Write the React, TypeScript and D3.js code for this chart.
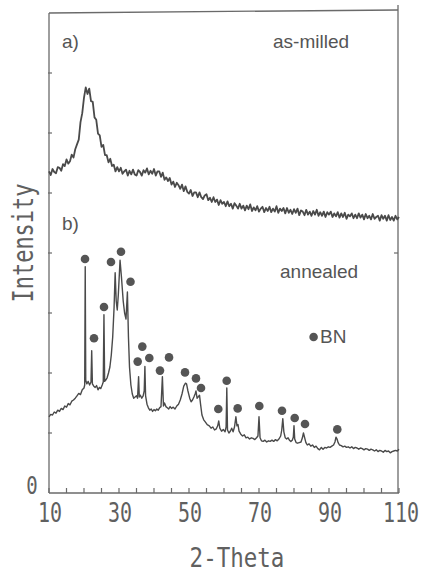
import React from "react";
import * as d3 from "d3";

// ---- Data ----
// (a) as-milled: intensity sampled every 0.5 deg from 10 to 110 (2-Theta)
const asMilledStart = 10;
const asMilledStep = 0.5;
const asMilledValues: number[] = [
  5.36, 5.30, 5.40, 5.35, 5.33, 5.43, 5.42, 5.37, 5.48, 5.45,
  5.56, 5.49, 5.53, 5.64, 5.59, 5.73, 5.81, 5.89, 6.18, 6.33,
  6.59, 6.76, 6.65, 6.74, 6.53, 6.52, 6.26, 6.22, 5.99, 5.96,
  5.77, 5.80, 5.63, 5.63, 5.51, 5.57, 5.45, 5.47, 5.36, 5.43,
  5.36, 5.42, 5.32, 5.36, 5.39, 5.29, 5.37, 5.31, 5.39, 5.31,
  5.29, 5.38, 5.35, 5.29, 5.38, 5.34, 5.41, 5.31, 5.37, 5.32,
  5.40, 5.29, 5.36, 5.36, 5.27, 5.34, 5.22, 5.26, 5.20, 5.25,
  5.14, 5.19, 5.10, 5.17, 5.13, 5.07, 5.14, 5.03, 5.11, 5.02,
  4.99, 5.05, 4.95, 5.01, 5.01, 4.93, 5.01, 4.93, 4.90, 4.96,
  4.98, 4.88, 4.92, 4.85, 4.93, 4.85, 4.89, 4.80, 4.88, 4.82,
  4.85, 4.78, 4.86, 4.78, 4.82, 4.74, 4.83, 4.79, 4.74, 4.82,
  4.74, 4.79, 4.71, 4.79, 4.73, 4.81, 4.70, 4.76, 4.71, 4.78,
  4.69, 4.74, 4.77, 4.68, 4.75, 4.70, 4.77, 4.68, 4.74, 4.69,
  4.78, 4.67, 4.74, 4.70, 4.75, 4.66, 4.75, 4.67, 4.72, 4.65,
  4.73, 4.67, 4.74, 4.63, 4.71, 4.69, 4.63, 4.72, 4.64, 4.69,
  4.62, 4.70, 4.64, 4.72, 4.62, 4.68, 4.62, 4.69, 4.60, 4.68,
  4.64, 4.69, 4.60, 4.66, 4.61, 4.68, 4.59, 4.66, 4.60, 4.67,
  4.57, 4.64, 4.61, 4.66, 4.58, 4.64, 4.58, 4.66, 4.59, 4.64,
  4.56, 4.65, 4.58, 4.62, 4.56, 4.65, 4.57, 4.60, 4.62, 4.54,
  4.63, 4.57, 4.62, 4.54, 4.63, 4.55, 4.60, 4.54, 4.62, 4.56,
  4.60,
];

// (b) annealed: [2-Theta, intensity]
const annealedPoints: [number, number][] = [
  [10, 1.27], [10.5, 1.31], [11, 1.30], [11.5, 1.35], [12, 1.33], [12.5, 1.38], [13, 1.36],
  [13.5, 1.41], [14, 1.39], [14.5, 1.45], [15, 1.43], [15.5, 1.49], [16, 1.47], [16.5, 1.53],
  [17, 1.55], [17.5, 1.58], [18, 1.62], [18.5, 1.66], [19, 1.64], [19.5, 1.72], [20, 1.75],
  [20.2, 1.80], [20.35, 3.77], [20.5, 1.88], [20.8, 1.82], [21.2, 1.86], [21.6, 1.80], [22.0, 1.85],
  [22.2, 2.37], [22.4, 1.82], [22.8, 1.78], [23.2, 1.76], [23.6, 1.79], [24.0, 1.72], [24.4, 1.76],
  [24.8, 1.74], [25.2, 1.80], [25.5, 1.85], [25.7, 2.97], [25.9, 1.86], [26.2, 1.88], [26.6, 1.92],
  [27.0, 2.0], [27.4, 2.1], [27.8, 2.3], [28.2, 2.6], [28.6, 3.1], [28.9, 3.67], [29.2, 3.2],
  [29.5, 3.05], [29.8, 3.3], [30.3, 3.88], [30.7, 3.6], [31.2, 3.2], [31.6, 3.0], [32.0, 2.9],
  [32.4, 3.35], [32.7, 2.6], [33.0, 2.1], [33.4, 1.8], [33.8, 1.65], [34.2, 1.58], [34.6, 1.60],
  [35.0, 1.62], [35.3, 1.58], [35.6, 1.94], [35.8, 1.60], [36.1, 1.63], [36.5, 1.58], [36.9, 1.62],
  [37.2, 1.70], [37.4, 2.11], [37.6, 1.62], [38.0, 1.48], [38.4, 1.42], [38.8, 1.38], [39.2, 1.40],
  [39.6, 1.36], [40.0, 1.39], [40.4, 1.37], [40.8, 1.40], [41.2, 1.38], [41.6, 1.42], [42.0, 1.44],
  [42.4, 1.94], [42.7, 1.45], [43.0, 1.50], [43.4, 1.44], [43.8, 1.42], [44.2, 1.40], [44.6, 1.44],
  [45.0, 1.41], [45.5, 1.43], [46.0, 1.40], [46.5, 1.45], [47.0, 1.48], [47.5, 1.55], [48.0, 1.65],
  [48.5, 1.78], [49.0, 1.83], [49.3, 1.82], [49.7, 1.70], [50.2, 1.58], [50.6, 1.52], [51.0, 1.55],
  [51.4, 1.60], [51.8, 1.66], [52.0, 1.70], [52.3, 1.58], [52.6, 1.60], [53.0, 1.63], [53.3, 1.48],
  [53.7, 1.30], [54.2, 1.22], [54.7, 1.18], [55.2, 1.14], [55.8, 1.12], [56.3, 1.08], [56.8, 1.10],
  [57.3, 1.05], [57.8, 1.07], [58.2, 1.12], [58.5, 1.20], [58.8, 1.08], [59.3, 1.03], [59.8, 1.06],
  [60.3, 1.02], [60.6, 1.10], [60.8, 1.75], [61.0, 1.05], [61.4, 1.00], [61.8, 1.03], [62.2, 1.08],
  [62.6, 1.02], [63.0, 1.10], [63.4, 1.27], [63.7, 1.12], [64.0, 1.14], [64.3, 1.03], [64.8, 0.98],
  [65.3, 0.95], [65.8, 0.97], [66.3, 0.92], [66.8, 0.93], [67.3, 0.90], [67.8, 0.92], [68.3, 0.91],
  [68.8, 0.89], [69.3, 0.92], [69.7, 0.95], [70.0, 1.27], [70.3, 0.92], [70.7, 0.87], [71.2, 0.86],
  [71.7, 0.88], [72.2, 0.85], [72.7, 0.87], [73.2, 0.86], [73.7, 0.88], [74.2, 0.86], [74.7, 0.89],
  [75.2, 0.87], [75.7, 0.90], [76.2, 0.95], [76.5, 1.05], [76.8, 1.24], [77.1, 1.02], [77.5, 0.92],
  [77.9, 0.90], [78.3, 0.92], [78.7, 0.88], [79.1, 0.86], [79.5, 0.88], [79.8, 0.93], [80.0, 1.12],
  [80.2, 0.90], [80.6, 0.84], [81.0, 0.83], [81.5, 0.84], [82.0, 0.85], [82.4, 0.92], [82.7, 1.00],
  [83.0, 0.93], [83.4, 0.84], [83.8, 0.80], [84.3, 0.82], [84.8, 0.78], [85.3, 0.80], [85.8, 0.76],
  [86.3, 0.78], [86.8, 0.74], [87.3, 0.72], [87.8, 0.76], [88.3, 0.73], [88.8, 0.76], [89.3, 0.75],
  [89.8, 0.77], [90.3, 0.76], [90.8, 0.78], [91.3, 0.80], [91.7, 0.85], [92.0, 0.93], [92.3, 0.90],
  [92.6, 0.84], [93.0, 0.80], [93.5, 0.79], [94.0, 0.77], [94.5, 0.78], [95.0, 0.76], [95.5, 0.77],
  [96.0, 0.75], [96.5, 0.77], [97.0, 0.74], [97.5, 0.76], [98.0, 0.75], [98.5, 0.73], [99.0, 0.75],
  [99.5, 0.74], [100.0, 0.72], [100.5, 0.74], [101.0, 0.73], [101.5, 0.71], [102.0, 0.73],
  [102.5, 0.72], [103.0, 0.70], [103.5, 0.72], [104.0, 0.69], [104.5, 0.71], [105.0, 0.70],
  [105.5, 0.68], [106.0, 0.71], [106.5, 0.69], [107.0, 0.70], [107.5, 0.67], [108.0, 0.69],
  [108.5, 0.70], [109.0, 0.71], [109.5, 0.70], [110, 0.73],
];

// BN markers: [2-Theta, intensity]
const bnMarkers: [number, number][] = [
  [20.29, 3.90], [22.86, 2.58], [25.71, 3.10], [27.71, 3.85], [30.57, 4.02], [33.29, 3.52],
  [35.34, 2.19], [36.66, 2.44], [38.66, 2.25], [41.71, 2.04], [44.29, 2.26], [48.86, 2.01],
  [52.0, 1.91], [53.43, 1.75], [58.37, 1.40], [60.77, 1.87], [63.91, 1.41], [70.09, 1.45],
  [76.57, 1.37], [80.2, 1.25], [83.14, 1.15], [92.37, 1.06],
];

const xTickLabels = [10, 30, 50, 70, 90, 110];
const xMinorTicks = d3.range(10, 111, 5);
const yLeftTicks = [1, 2, 3, 4, 5, 6, 7];
const yRightTicks = [4];
const legendMarker: [number, number] = [85.6, 2.6];

const ink = "#555";
const labelInk = "#606060";
const axisColor = "#6a6a6a";
const monoFont = "'DejaVu Sans Mono', monospace";
const sansFont = "'Liberation Sans', Arial, sans-serif";

export default function App() {
  const x = d3.scaleLinear().domain([10, 110]).range([49, 399]);
  const y = d3.scaleLinear().domain([0, 8]).range([493, 13]);

  const asMilled: [number, number][] = asMilledValues.map((v, i) => [
    asMilledStart + i * asMilledStep,
    v,
  ]);
  const line = d3
    .line<[number, number]>()
    .x((d) => x(d[0]))
    .y((d) => y(d[1]));

  const x0 = x(10);
  const x1 = x(110);
  const y0 = y(0);
  const yTop = y(8);

  return (
    <svg
      width={427}
      height={575}
      style={{ position: "absolute", left: 0, top: 0, background: "#fff" }}
    >
      {/* frame */}
      <line x1={x0} y1={yTop} x2={x0} y2={y0} stroke={axisColor} strokeWidth={1.3} />
      <line x1={x0} y1={y0} x2={x1} y2={y0} stroke={axisColor} strokeWidth={1.3} />
      <line x1={x1 - 1} y1={5} x2={x1 - 1} y2={y0} stroke={axisColor} strokeWidth={1.3} />
      <line x1={x0} y1={yTop} x2={x1 - 1} y2={yTop - 3} stroke={axisColor} strokeWidth={1.3} />

      {/* ticks */}
      {xMinorTicks.map((t) => (
        <line key={"xt" + t} x1={x(t)} x2={x(t)} y1={y0} y2={y0 - 5} stroke={axisColor} strokeWidth={1.2} />
      ))}
      {yLeftTicks.map((t) => (
        <line key={"yl" + t} x1={x0 - 1} x2={x0 + 3} y1={y(t)} y2={y(t)} stroke={axisColor} strokeWidth={1.2} />
      ))}
      {yRightTicks.map((t) => (
        <line key={"yr" + t} x1={x1 - 1} x2={x1 - 5} y1={y(t)} y2={y(t)} stroke={axisColor} strokeWidth={1.2} />
      ))}

      {/* tick labels (monospace, stretched vertically) */}
      {xTickLabels.map((t) => (
        <g key={"xl" + t} transform={`translate(${x(t) + (t === 110 ? 2 : 1)},522) scale(1,1.35)`}>
          <text x={0} y={0} textAnchor="middle" fontFamily={monoFont} fontSize={20} fill={labelInk}>
            {String(t)}
          </text>
        </g>
      ))}
      <g transform="translate(32,494) scale(1,1.3)">
        <text x={0} y={0} textAnchor="middle" fontFamily={monoFont} fontSize={19} fill={labelInk}>
          0
        </text>
      </g>

      {/* axis titles */}
      <g transform="translate(237,567) scale(1,1.15)">
        <text x={0} y={0} textAnchor="middle" fontFamily={monoFont} fontSize={22.5} fill={labelInk}>
          2-Theta
        </text>
      </g>
      <g transform="translate(33,243) rotate(-90) scale(1,1.25)">
        <text x={0} y={0} textAnchor="middle" fontFamily={monoFont} fontSize={22} fill={labelInk}>
          Intensity
        </text>
      </g>

      {/* curves */}
      <path d={line(asMilled) || ""} fill="none" stroke="#4a4a4a" strokeWidth={1.8} strokeLinejoin="round" />
      <path d={line(annealedPoints) || ""} fill="none" stroke="#4a4a4a" strokeWidth={1.4} strokeLinejoin="round" />

      {/* BN markers */}
      {bnMarkers.map((d, i) => (
        <circle key={"bn" + i} cx={x(d[0])} cy={y(d[1])} r={4.3} fill={ink} />
      ))}

      {/* panel labels */}
      <text x={62} y={48} fontFamily={sansFont} fontSize={19} fill={ink}>a)</text>
      <text x={273} y={48} fontFamily={sansFont} fontSize={19} fill={ink}>as-milled</text>
      <text x={62} y={230} fontFamily={sansFont} fontSize={19} fill={ink}>b)</text>
      <text x={280} y={278} fontFamily={sansFont} fontSize={19} fill={ink}>annealed</text>
      <circle cx={x(legendMarker[0])} cy={y(legendMarker[1])} r={4.3} fill={ink} />
      <text x={320} y={343} fontFamily={sansFont} fontSize={19} fill={ink}>BN</text>
    </svg>
  );
}
